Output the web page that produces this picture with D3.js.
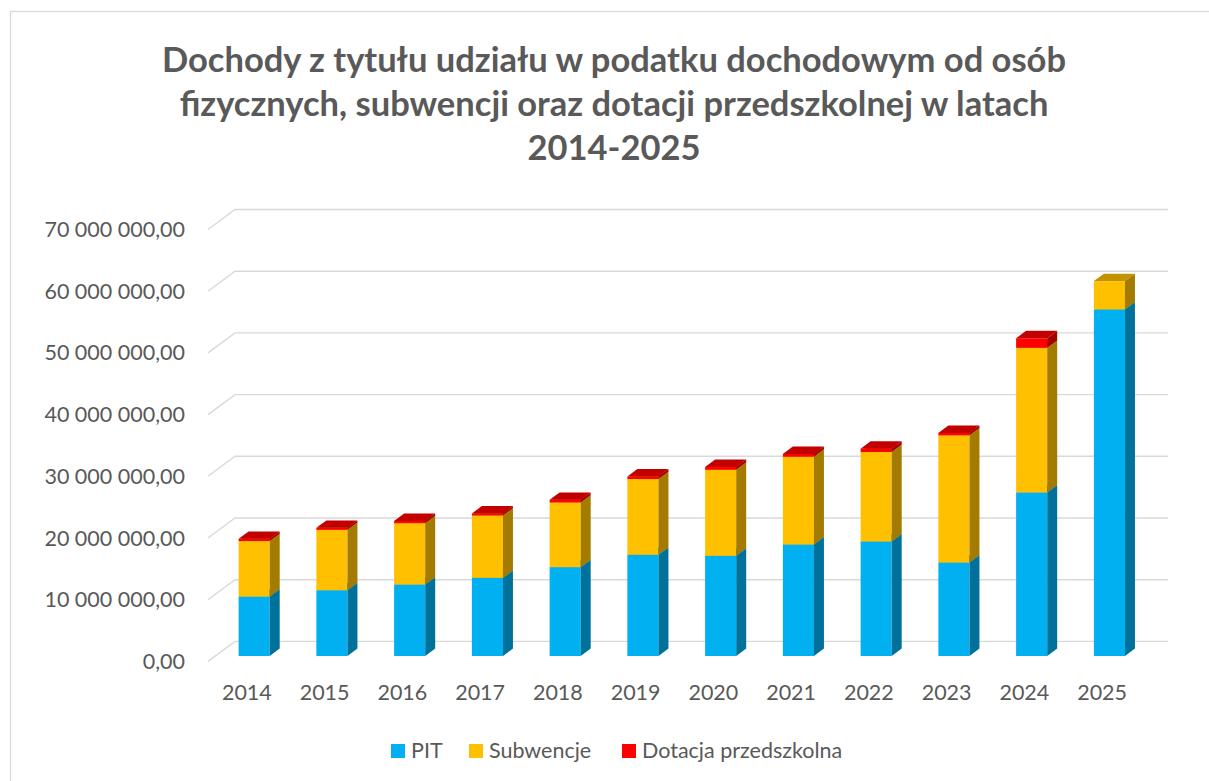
<!DOCTYPE html>
<html>
<head>
<meta charset="utf-8">
<script src="https://cdn.jsdelivr.net/npm/d3@7/dist/d3.min.js"></script>
<style>
  html, body { margin: 0; padding: 0; background: #fff; }
  svg { display: block; }
  text { font-family: Lato, "Open Sans", sans-serif; fill: #595959; }
</style>
</head>
<body>
<svg id="chart" width="1209" height="781"></svg>
<script>
// ---- data ----
const years = ["2014","2015","2016","2017","2018","2019","2020","2021","2022","2023","2024","2025"];
const seriesNames = ["PIT", "Subwencje", "Dotacja przedszkolna"];
const pit = [9630000, 10660000, 11580000, 12660000, 14400000, 16400000, 16230000, 18070000, 18560000, 15150000, 26500000, 56170000];
const subwencje = [8990000, 9790000, 9950000, 10120000, 10490000, 12280000, 13960000, 14230000, 14500000, 20610000, 23450000, 4590000];
const dotacja = [370000, 330000, 370000, 320000, 430000, 420000, 440000, 440000, 540000, 390000, 1550000, 0];
const yTicks = [0, 10000000, 20000000, 30000000, 40000000, 50000000, 60000000, 70000000];
const titleLines = [
  "Dochody z tytułu udziału w podatku dochodowym od osób",
  "fizycznych, subwencji oraz dotacji przedszkolnej w latach",
  "2014-2025"
];

// ---- styles ----
const frontColors = ["#00B0F0", "#FFC000", "#FF0000"];
const shade = (c, k) => { const r = d3.rgb(c); return d3.rgb(r.r*k, r.g*k, r.b*k).formatHex(); };
const sideColors = frontColors.map(c => shade(c, 0.64));
const topColors = frontColors.map(c => shade(c, 0.76));

const svg = d3.select("#chart");

// chart border
svg.append("rect").attr("x", 10.5).attr("y", 11.5).attr("width", 1300).attr("height", 900)
  .attr("fill", "none").attr("stroke", "#D9D9D9").attr("stroke-width", 1.3);

// title
svg.append("g").selectAll("text").data(titleLines).join("text")
  .attr("x", 614).attr("y", (d, i) => 72 + i * 44)
  .attr("text-anchor", "middle")
  .style("font-weight", "bold").style("font-size", "34.5px")
  .text(d => d);

// ---- scales (back wall plane) ----
const x = d3.scaleBand().domain(years).range([235, 1168]).paddingInner(0.6).paddingOuter(0.3);
const y = d3.scaleLinear().domain([0, 70000000]).range([641.4, 209.5]);
const depthX = -27, depthY = 20;          // wall depth (back -> front)
const fFront = 0.73, fBack = 0.36;        // bar front/back depth fractions
const fmt = v => d3.format(",.2f")(v).replace(/,/g, " ").replace(".", ",");

// gridlines: side wall + back wall
const grid = svg.append("g").attr("stroke", "#D9D9D9").attr("stroke-width", 1.4).attr("fill", "none");
yTicks.forEach(t => {
  const yb = y(t);
  grid.append("path").attr("d", `M${235 + depthX},${yb + depthY}L235,${yb}L1168,${yb}`);
});

// y axis labels
svg.append("g").selectAll("text").data(yTicks).join("text")
  .attr("x", 235 + depthX - 23).attr("y", d => y(d) + depthY)
  .attr("dy", "0.35em").attr("text-anchor", "end")
  .style("font-size", "21.5px")
  .text(d => fmt(d));

// x axis labels
svg.append("g").selectAll("text").data(years).join("text")
  .attr("x", d => x(d) + x.bandwidth() / 2 + depthX)
  .attr("y", y(0) + depthY + 38.5)
  .attr("text-anchor", "middle")
  .style("font-size", "21.5px")
  .text(d => d);

// ---- 3D stacked bars ----
const rows = years.map((yr, i) => ({ year: yr, PIT: pit[i], Subwencje: subwencje[i], "Dotacja przedszkolna": dotacja[i] }));
const stack = d3.stack().keys(seriesNames)(rows);

const fx = fFront * depthX, fy = fFront * depthY;
const bdx = (fBack - fFront) * depthX, bdy = (fBack - fFront) * depthY;
const bars = svg.append("g");
years.forEach((yr, i) => {
  const xl = x(yr) + fx, xr = xl + x.bandwidth();
  stack.forEach((layer, s) => {
    const [v0, v1] = layer[i];
    if (v1 - v0 <= 0) return;
    const yb = y(v0) + fy, yt = y(v1) + fy;
    // front face
    bars.append("rect").attr("x", xl).attr("y", yt).attr("width", xr - xl).attr("height", yb - yt)
      .attr("fill", frontColors[s]);
    // side face
    bars.append("path")
      .attr("d", `M${xr},${yb}L${xr + bdx},${yb + bdy}L${xr + bdx},${yt + bdy}L${xr},${yt}Z`)
      .attr("fill", sideColors[s]);
    // top face
    bars.append("path")
      .attr("d", `M${xl},${yt}L${xr},${yt}L${xr + bdx},${yt + bdy}L${xl + bdx},${yt + bdy}Z`)
      .attr("fill", topColors[s]);
  });
});

// ---- legend ----
const legendX = [391, 469, 622];
const lg = svg.append("g");
seriesNames.forEach((n, s) => {
  lg.append("rect").attr("x", legendX[s]).attr("y", 744).attr("width", 14).attr("height", 14).attr("fill", frontColors[s]);
  lg.append("text").attr("x", legendX[s] + 20).attr("y", 757.5).style("font-size", "21.5px").text(n);
});
</script>
</body>
</html>
